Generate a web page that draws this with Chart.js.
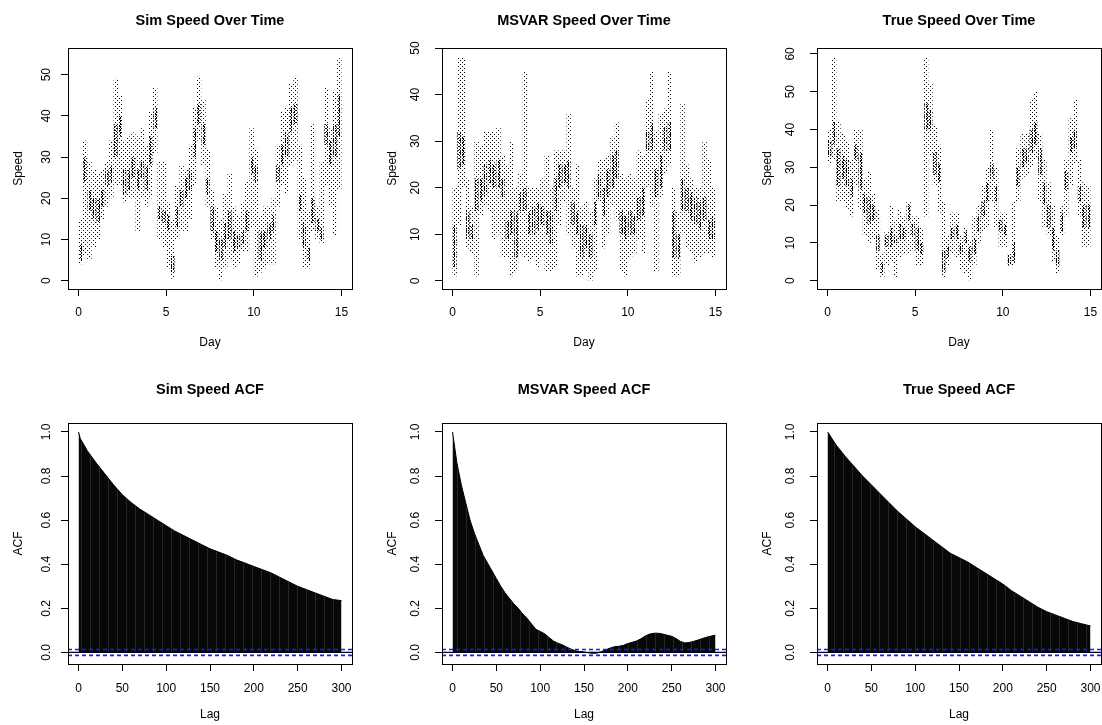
<!DOCTYPE html>
<html>
<head>
<meta charset="utf-8">
<script src="https://cdn.jsdelivr.net/npm/chart.js@4.4.1/dist/chart.umd.min.js"></script>
<style>
html, body { margin: 0; padding: 0; background: #fff; }
#wrap { position: relative; width: 1102px; height: 725px; overflow: hidden; }
canvas { position: absolute; }
</style>
</head>
<body>
<div id="wrap">
<canvas id="c0"></canvas><canvas id="c1"></canvas><canvas id="c2"></canvas>
<canvas id="c3"></canvas><canvas id="c4"></canvas><canvas id="c5"></canvas>
</div>
<script>
// time bins (day centres) for the speed scatter
const binDays = [0.125,0.375,0.625,0.875,1.125,1.375,1.625,1.875,2.125,2.375,2.625,2.875,3.125,3.375,3.625,3.875,4.125,4.375,4.625,4.875,5.125,5.375,5.625,5.875,6.125,6.375,6.625,6.875,7.125,7.375,7.625,7.875,8.125,8.375,8.625,8.875,9.125,9.375,9.625,9.875,10.125,10.375,10.625,10.875,11.125,11.375,11.625,11.875,12.125,12.375,12.625,12.875,13.125,13.375,13.625,13.875,14.125,14.375,14.625,14.875];

// Sim speed: spread of points and dense core per bin
const simLow = [4,6,5,8,10,15,18,20,23,23,19,20,20,12,20,18,20,31,10,8,3,0.5,10,12,12,15,23,34,28,18,10,3,0,3,5,3,4,7,7,13,1,2,3,4,4,18,23,21,28,29,10,3,3,12,10,9,23,18,11,22];
const simHigh = [15,34,29,27,26,27,29,34,49,45,34,35,36,35,37,33,41,47,29,29,19,15,23,28,27,33,42,49.5,44,32,22,18,15,21,26,18,16,19,24,37,32,16,18,18,20,33,41,42,48,49.5,33,25,17,38,18,29,47,37,46,54];
const simCoreLow = [5,24,17,15,14,18,23,24,30,35,21,22,25,22,25,22,28,37,15,14,12,2,13,18,20,22,30,38,33,21,12,7,5,8,10,7,8,9,12,26,24,5,8,10,12,24,28,30,36,38,17,8,5,14,12,10,33,28,30,35];
const simCoreHigh = [9,30,22,20,20,22,27,28,38,40,27,27,30,27,29,28,35,42,18,17,16,6,18,22,25,27,37,43,38,25,18,12,10,14,17,12,11,12,17,30,28,12,12,14,16,28,33,36,42,43,21,14,8,20,15,13,38,34,38,45];

// MSVAR speed
const msvarLow = [1,12,20,7,6,1,14,16,15,9,10,5,5,1,2,6,5,4,5,3,5,2,2,3,12,17,10,7,1,1,2,0,2,17,7,10,16,13,2,1,5,6,9,6,20,16,2,18,23,25,1,1,10,7,6,4,5,6,6,5];
const msvarHigh = [20,48,48,22,16,30,29,32,32,32,33,27,25,30,20,23,45,20,20,20,22,27,20,28,28,28,36,20,25,16,17,15,22,26,26,27,31,34,23,22,23,22,28,27,39,45,32,36,37,45,20,15,38,25,22,20,20,30,26,20];
const msvarCoreLow = [3,24,25,9,9,15,17,18,21,20,20,18,9,10,5,15,15,10,10,11,12,10,8,15,20,21,20,12,10,5,7,5,12,18,14,18,20,22,10,9,10,10,13,14,28,28,18,20,28,28,5,5,15,15,13,12,11,13,9,9];
const msvarCoreHigh = [12,32,31,15,12,22,22,25,26,25,26,22,13,15,15,19,20,15,16,17,16,15,15,22,25,25,26,17,15,12,12,10,17,23,20,24,27,28,15,14,15,14,18,20,32,34,24,27,33,34,15,10,22,20,19,18,17,18,13,14];

// True speed
const trueLow = [31,32,21,21,19,17,25,19,12,10,11,3,1,4,5,1,6,7,7,8,4,4,17,33,25,18,1,4,7,6,3,2,0,4,10,13,14,21,14,9,9,4,4,21,27,28,30,32,21,14,12,5,2,12,17,25,31,17,9,9];
const trueHigh = [40,59,42,39,37,32,40,40,27,29,23,19,7,13,20,16,19,17,21,17,17,14,59,52,41,36,21,12,18,18,12,14,11,17,20,25,30,40,30,18,18,7,21,35,39,39,48,50,39,32,26,20,12,20,32,43,48,32,26,25];
const trueCoreLow = [33,36,25,27,25,22,32,24,18,15,16,8,2,9,9,10,11,11,16,12,8,7,40,40,28,26,2,6,11,11,7,10,5,7,13,17,21,27,21,13,12,4,5,25,30,31,34,36,28,20,14,8,4,13,24,34,35,21,14,14];
const trueCoreHigh = [37,42,35,33,32,27,36,34,23,22,20,12,5,12,14,12,15,14,20,15,14,10,47,45,34,31,8,9,14,15,10,13,9,11,17,21,26,31,25,16,15,7,10,30,35,35,40,42,35,26,20,14,8,18,29,38,40,25,20,20];

// ACF
const acfLags10 = [0,2,5,10,20,30,40,50,60,70,80,90,100,110,120,130,140,150,160,170,180,190,200,210,220,230,240,250,260,270,280,290,300];
const simAcf = [1.0,0.97,0.95,0.915,0.86,0.81,0.76,0.715,0.68,0.65,0.625,0.60,0.575,0.55,0.53,0.51,0.49,0.47,0.455,0.44,0.42,0.405,0.39,0.375,0.36,0.34,0.32,0.30,0.285,0.27,0.255,0.24,0.235];
const trueAcf = [1.0,0.99,0.97,0.94,0.89,0.845,0.80,0.76,0.72,0.68,0.64,0.605,0.57,0.54,0.51,0.48,0.45,0.43,0.41,0.385,0.36,0.335,0.31,0.28,0.255,0.23,0.205,0.185,0.17,0.155,0.14,0.13,0.12];
const acfLags5 = [0,5,10,15,20,25,30,35,40,45,50,55,60,65,70,75,80,85,90,95,100,105,110,115,120,125,130,135,140,145,150,155,160,165,170,175,180,185,190,195,200,205,210,215,220,225,230,235,240,245,250,255,260,265,270,275,280,285,290,295,300];
const msvarAcf = [1.0,0.86,0.76,0.68,0.60,0.54,0.49,0.44,0.405,0.37,0.335,0.30,0.27,0.245,0.22,0.20,0.175,0.155,0.13,0.105,0.095,0.085,0.068,0.052,0.042,0.035,0.025,0.015,0.008,0.004,0.002,-0.002,-0.004,-0.003,0.004,0.012,0.02,0.026,0.028,0.032,0.04,0.046,0.052,0.062,0.075,0.083,0.087,0.087,0.083,0.078,0.073,0.063,0.05,0.043,0.045,0.05,0.056,0.063,0.069,0.074,0.078];
const ciLevel = 0.0133;

const FONT = '"Liberation Sans", Arial, Helvetica, sans-serif';

// small repeating tiles used as fills
function tilePattern(w, h, bg, fg, pts) {
    var tile = document.createElement('canvas');
    tile.width = w;
    tile.height = h;
    var g = tile.getContext('2d');
    if (bg) {
        g.fillStyle = bg;
        g.fillRect(0, 0, w, h);
    }
    g.fillStyle = fg;
    pts.forEach(p => g.fillRect(p[0], p[1], 1, 1));
    return g.createPattern(tile, 'repeat');
}
const sparseDots = tilePattern(4, 4, null, '#000', [[1, 0], [3, 2]]);
const denseDots = tilePattern(3, 3, null, '#000', [[0, 0], [0, 1], [2, 2]]);
var stripePts = [];
for (var k = 0; k < 9; k++) stripePts.push([0, k]);
const acfStripes = tilePattern(9, 9, '#080808', '#262626', stripePts);

// R style box, titles and rotated tick labels
const rStyle = {
    id: 'rStyle',
    afterDraw(chart, args, o) {
        const ctx = chart.ctx, a = chart.chartArea;
        const xs = chart.scales.x, ys = chart.scales.y;
        ctx.save();
        ctx.strokeStyle = '#000';
        ctx.lineWidth = 1;
        const l = Math.round(a.left), t = Math.round(a.top);
        ctx.strokeRect(l + 0.5, t + 0.5, Math.round(a.right) - l, Math.round(a.bottom) - t);
        ctx.fillStyle = '#000';
        ctx.textAlign = 'center';
        ctx.textBaseline = 'alphabetic';
        ctx.font = 'bold 14.5px ' + FONT;
        ctx.fillText(o.title, (a.left + a.right) / 2, o.titleY);
        ctx.font = '12px ' + FONT;
        xs.ticks.forEach(tk => ctx.fillText(String(tk.value), xs.getPixelForValue(tk.value), o.xLabY));
        ctx.fillText(o.xTitle, (a.left + a.right) / 2, o.xTitleY);
        ys.ticks.forEach(tk => {
            ctx.save();
            ctx.translate(a.left - o.yLabOff, ys.getPixelForValue(tk.value));
            ctx.rotate(-Math.PI / 2);
            ctx.fillText(tk.value.toFixed(o.yDigits), 0, 0);
            ctx.restore();
        });
        ctx.translate(a.left - 46.5, (a.top + a.bottom) / 2);
        ctx.rotate(-Math.PI / 2);
        ctx.fillText(o.yTitle, 0, 0);
        ctx.restore();
    }
};

function axis(min, max, step) {
    return {
        type: 'linear', min: min, max: max, offset: false,
        afterFit: function (s) { if (s.isHorizontal()) { s.height = 0; } else { s.width = 0; } },
        ticks: { display: false, stepSize: step, includeBounds: false },
        grid: { display: true, offset: false, drawOnChartArea: false, drawTicks: true, tickLength: 7, tickColor: '#000', tickWidth: 1 },
        border: { display: false }
    };
}

const cells = [{ x: 0, w: 367 }, { x: 367, w: 368 }, { x: 735, w: 367 }];
const rows = [
    { y: 0, h: 362, boxTop: 48, boxBottom: 289, titleY: 25.3, xLabY: 315.7, xTitleY: 345.5 },
    { y: 362, h: 363, boxTop: 423, boxBottom: 664, titleY: 394.3, xLabY: 692, xTitleY: 718 }
];
const boxLeft = [68, 442, 817];
const yLabOffs = [18, 23, 23];

function setup(idx, col, row, type, data, xAxis, yAxis, texts) {
    const cell = cells[col], r = rows[row];
    const canvas = document.getElementById('c' + idx);
    canvas.width = cell.w;
    canvas.height = r.h;
    canvas.style.left = cell.x + 'px';
    canvas.style.top = r.y + 'px';
    const left = boxLeft[col] - cell.x;
    const right = cell.w - (left + 284);
    return new Chart(canvas.getContext('2d'), {
        type: type,
        data: data,
        options: {
            responsive: false,
            animation: false,
            events: [],
            layout: { padding: { left: left, top: r.boxTop - r.y, right: right, bottom: r.y + r.h - r.boxBottom } },
            plugins: {
                legend: { display: false },
                tooltip: { enabled: false },
                rStyle: {
                    title: texts.title, xTitle: texts.xTitle, yTitle: texts.yTitle,
                    titleY: r.titleY - r.y, xLabY: r.xLabY - r.y, xTitleY: r.xTitleY - r.y,
                    yLabOff: yLabOffs[col], yDigits: texts.yDigits
                }
            },
            scales: { x: xAxis, y: yAxis }
        },
        plugins: [rStyle]
    });
}

function speedData(lo, hi, cLo, cHi) {
    return {
        datasets: [
            {
                data: binDays.map((d, i) => ({ x: d, y: [lo[i], hi[i]] })),
                backgroundColor: sparseDots, borderWidth: 0, grouped: false,
                barPercentage: 1, categoryPercentage: 1, inflateAmount: 0, order: 2
            },
            {
                data: binDays.map((d, i) => ({ x: d, y: [cLo[i], cHi[i]] })),
                backgroundColor: denseDots, borderWidth: 0, grouped: false,
                barPercentage: 0.8, categoryPercentage: 1, inflateAmount: 0, order: 1
            }
        ]
    };
}

function hline(y, color, dash, width) {
    return {
        data: [{ x: -12, y: y }, { x: 312, y: y }],
        borderColor: color, borderWidth: width, borderDash: dash,
        pointRadius: 0, fill: false, order: 0
    };
}

function acfData(lags, acf) {
    return {
        datasets: [
            hline(ciLevel, '#1a1aff', [4, 3], 1.6),
            hline(-ciLevel, '#1a1aff', [4, 3], 1.6),
            hline(0, '#000000', [], 1.2),
            {
                data: lags.map((l, i) => ({ x: l, y: acf[i] })),
                borderColor: '#000', borderWidth: 1, backgroundColor: acfStripes,
                fill: 'origin', pointRadius: 0, tension: 0, order: 3
            }
        ]
    };
}

setup(0, 0, 0, 'bar', speedData(simLow, simHigh, simCoreLow, simCoreHigh),
    axis(-0.6, 15.6, 5), axis(-2.01, 56.48, 10),
    { title: 'Sim Speed Over Time', xTitle: 'Day', yTitle: 'Speed', yDigits: 0 });
setup(1, 1, 0, 'bar', speedData(msvarLow, msvarHigh, msvarCoreLow, msvarCoreHigh),
    axis(-0.6, 15.6, 5), axis(-1.72, 50.0, 10),
    { title: 'MSVAR Speed Over Time', xTitle: 'Day', yTitle: 'Speed', yDigits: 0 });
setup(2, 2, 0, 'bar', speedData(trueLow, trueHigh, trueCoreLow, trueCoreHigh),
    axis(-0.6, 15.6, 5), axis(-2.2, 61.56, 10),
    { title: 'True Speed Over Time', xTitle: 'Day', yTitle: 'Speed', yDigits: 0 });

setup(3, 0, 1, 'line', acfData(acfLags10, simAcf),
    axis(-12, 312, 50), axis(-0.0525, 1.0405, 0.2),
    { title: 'Sim Speed ACF', xTitle: 'Lag', yTitle: 'ACF', yDigits: 1 });
setup(4, 1, 1, 'line', acfData(acfLags5, msvarAcf),
    axis(-12, 312, 50), axis(-0.0525, 1.0405, 0.2),
    { title: 'MSVAR Speed ACF', xTitle: 'Lag', yTitle: 'ACF', yDigits: 1 });
setup(5, 2, 1, 'line', acfData(acfLags10, trueAcf),
    axis(-12, 312, 50), axis(-0.0525, 1.0405, 0.2),
    { title: 'True Speed ACF', xTitle: 'Lag', yTitle: 'ACF', yDigits: 1 });
</script>
</body>
</html>
